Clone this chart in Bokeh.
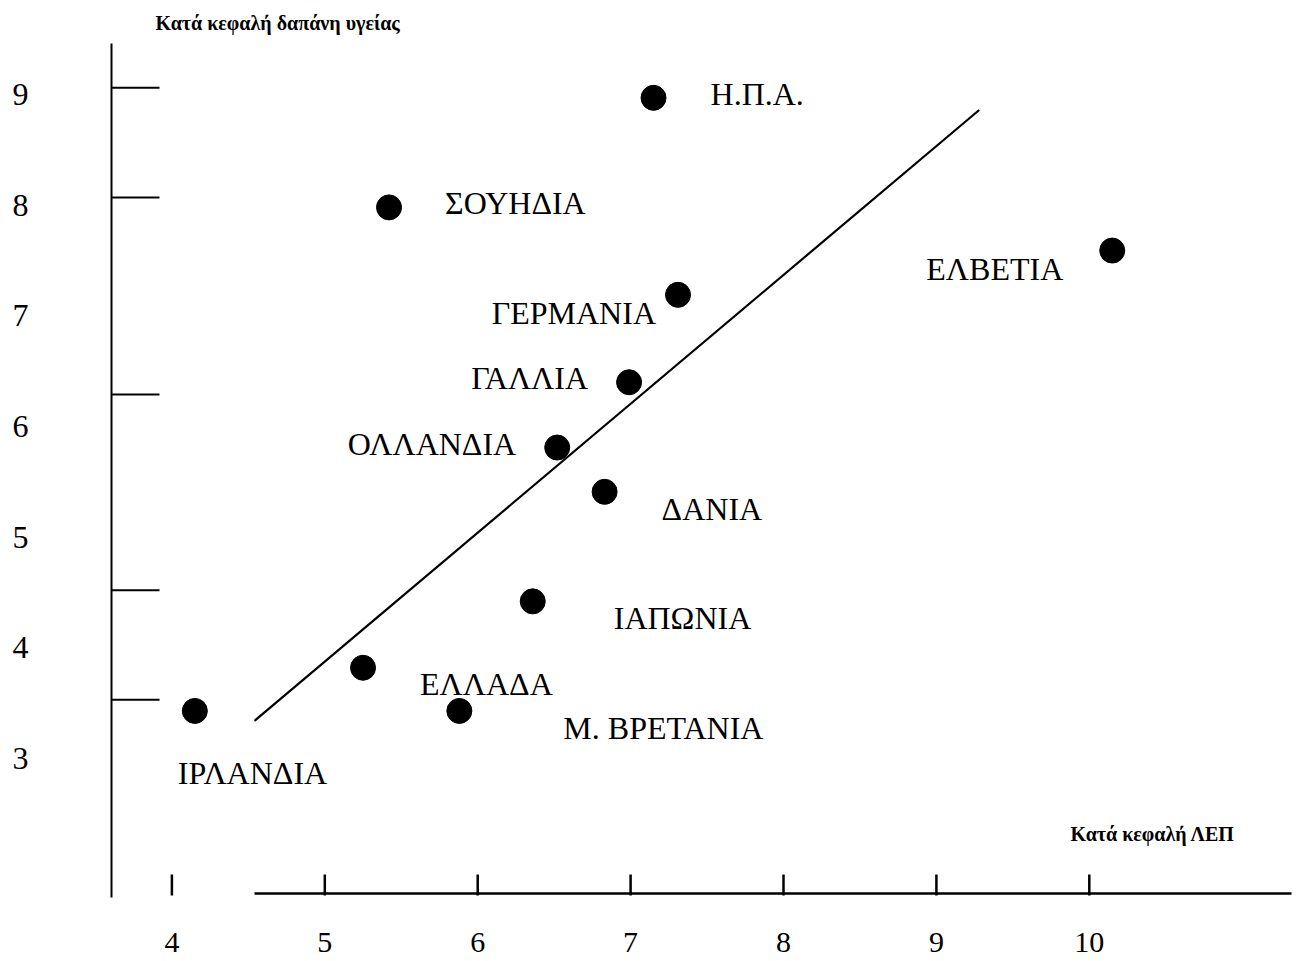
from bokeh.plotting import figure
from bokeh.models import Range1d, ColumnDataSource
from bokeh.embed import file_html
from bokeh.resources import INLINE
from bokeh.core.properties import value

# ---------------- data ----------------
countries = ["Η.Π.Α.", "ΣΟΥΗΔΙΑ", "ΕΛΒΕΤΙΑ", "ΓΕΡΜΑΝΙΑ", "ΓΑΛΛΙΑ", "ΟΛΛΑΝΔΙΑ",
             "ΔΑΝΙΑ", "ΙΑΠΩΝΙΑ", "ΕΛΛΑΔΑ", "Μ. ΒΡΕΤΑΝΙΑ", "ΙΡΛΑΝΔΙΑ"]
gdp_per_capita = [7.15, 5.42, 10.15, 7.31, 6.99, 6.52, 6.83, 6.36, 5.25, 5.88, 4.15]
health_per_capita = [8.97, 7.98, 7.59, 7.19, 6.40, 5.81, 5.41, 4.42, 3.82, 3.43, 3.43]

fit_x = [4.54, 9.28]
fit_y = [3.34, 8.86]

x_ticks = [4, 5, 6, 7, 8, 9, 10]
y_ticks = [3, 4, 5, 6, 7, 8, 9]
y_tick_marks = [9.06, 8.07, 6.29, 4.52, 3.53]

x_title = "Κατά κεφαλή ΛΕΠ"
y_title = "Κατά κεφαλή δαπάνη υγείας"

# ---------------- layout / style ----------------
label_align = ["left", "left", "right", "right", "right", "right",
               "left", "left", "left", "left", "left"]
label_dx = [57, 56, -49, -22, -41, -41, 57, 81, 57, 104, -17]
label_dy = [-4, -4, 18, 18, -4, -4, 17, 17, 16, 17, 62]

W, H = 1299, 961
OFF = 0
X0_PX, XS = 171.4, 152.9   # px of x=4, px per unit
Y9_PX, YS = 94.0, 110.67   # px of y=9, px per unit


def xd(px):
    return 4 + (px - X0_PX) / XS


def yd(py):
    return 9 - (py - Y9_PX) / YS


SERIF = value("Liberation Serif")

p = figure(width=W, height=H,
           x_range=Range1d(xd(OFF), xd(OFF + W)),
           y_range=Range1d(yd(OFF + H), yd(OFF)),
           x_axis_location=None, y_axis_location=None,
           output_backend="svg", toolbar_location=None, min_border=0)
p.grid.visible = False
p.outline_line_color = None
p.background_fill_color = "white"
p.border_fill_color = "white"

# hand-drawn style axes
p.segment(x0=[xd(111)], y0=[yd(43)], x1=[xd(111)], y1=[yd(897)],
          line_color="black", line_width=2)
p.segment(x0=[xd(254)], y0=[yd(893)], x1=[xd(1291)], y1=[yd(893)],
          line_color="black", line_width=2.5)
p.segment(x0=x_ticks, y0=[yd(874)] * len(x_ticks), x1=x_ticks, y1=[yd(895)] * len(x_ticks),
          line_color="black", line_width=2.5)
p.segment(x0=[xd(111)] * len(y_tick_marks), y0=y_tick_marks,
          x1=[xd(159)] * len(y_tick_marks), y1=y_tick_marks,
          line_color="black", line_width=2)

# tick labels
p.text(x=[xd(28)] * len(y_ticks), y=y_ticks, text=[str(v) for v in y_ticks],
       text_font=SERIF, text_font_size="32px", text_align="right",
       text_baseline="middle", text_color="black")
p.text(x=x_ticks, y=[yd(942)] * len(x_ticks), text=[str(v) for v in x_ticks],
       text_font=SERIF, text_font_size="30px", text_align="center",
       text_baseline="middle", text_color="black")

# axis titles
p.text(x=[xd(155)], y=[yd(22)], text=[y_title], text_font=SERIF,
       text_font_size="20px", text_font_style="bold", text_align="left",
       text_baseline="middle", text_color="black")
p.text(x=[xd(1070)], y=[yd(833)], text=[x_title], text_font=SERIF,
       text_font_size="20px", text_font_style="bold", text_align="left",
       text_baseline="middle", text_color="black")

# regression line
p.line(fit_x, fit_y, line_color="black", line_width=2.2)

# points
src = ColumnDataSource(dict(x=gdp_per_capita, y=health_per_capita, name=countries,
                            align=label_align, dx=label_dx, dy=label_dy))
p.scatter("x", "y", source=src, size=25, fill_color="black", line_color="black")
p.text("x", "y", text="name", source=src, x_offset="dx", y_offset="dy",
       text_align="align", text_baseline="middle", text_font=SERIF,
       text_font_size="32px", text_color="black")

open("out.html", "w").write(file_html(p, INLINE))
